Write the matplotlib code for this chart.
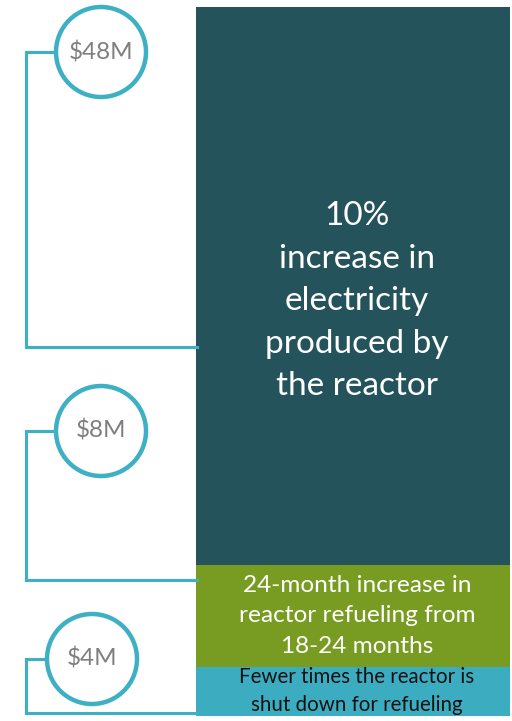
import matplotlib
matplotlib.use("Agg")
import matplotlib.pyplot as plt
from matplotlib.patches import Circle

plt.rcParams['font.family'] = ['Lato', 'DejaVu Sans']

# data, bottom segment first
labels = ["$4M", "$8M", "$48M"]
heights = [4.15, 8.65, 47.2]   # segment heights as drawn in the picture ($M)
descriptions = ["Fewer times the reactor is\nshut down for refueling",
                "24-month increase in\nreactor refueling from\n18-24 months",
                "10%\nincrease in\nelectricity\nproduced by\nthe reactor"]
colors = ["#3CADC1", "#789B22", "#24535B"]
text_colors = ["#111111", "white", "white"]
text_sizes = [14.8, 17.6, 24]
line_gaps = [1.5, 1.55, 1.52]
text_shift = [0, 0, -1.3]

W, H = 512, 721
fig = plt.figure(figsize=(W / 100, H / 100), dpi=100)

# bar axes: x in pixels, y in $M
bar_bottom_px, bar_top_px = 716, 7
total = sum(heights)
ppu = (bar_bottom_px - bar_top_px) / total
ax = fig.add_axes([0, 0, 1, 1])
ax.set_xlim(0, W)
ax.set_ylim(-(H - bar_bottom_px) / ppu, total + bar_top_px / ppu)
ax.axis("off")

bottom = 0
for v, c, d, tc, fs, ls, sh in zip(heights, colors, descriptions, text_colors,
                                    text_sizes, line_gaps, text_shift):
    ax.bar(353, v, bottom=bottom, width=314, color=c, edgecolor="none")
    ax.text(357, bottom + v / 2 + sh, d, ha="center", va="center", color=tc,
            fontsize=fs, linespacing=ls)
    bottom += v

# overlay in pixel coordinates for the circles and brackets
ov = fig.add_axes([0, 0, 1, 1])
ov.set_xlim(0, W)
ov.set_ylim(H, 0)
ov.axis("off")
ov.patch.set_alpha(0)

ring = "#3DB0C4"
circ_x = [92, 101, 101]
circ_y = [659, 431, 52]
bracket_end = [713, 580, 347]
r = 45
for lab, cx, cy, by in zip(labels, circ_x, circ_y, bracket_end):
    ov.plot([cx - r, 26, 26, 197], [cy, cy, by, by], color=ring, lw=2.2,
            solid_joinstyle="miter", zorder=2)
    ov.add_patch(Circle((cx, cy), r, facecolor="white", edgecolor=ring, lw=3.2, zorder=3))
    ov.text(cx, cy, lab, ha="center", va="center", color="#7F7F7F", fontsize=17.5, zorder=4)

fig.savefig("out.png", dpi=100)
plt.close(fig)
